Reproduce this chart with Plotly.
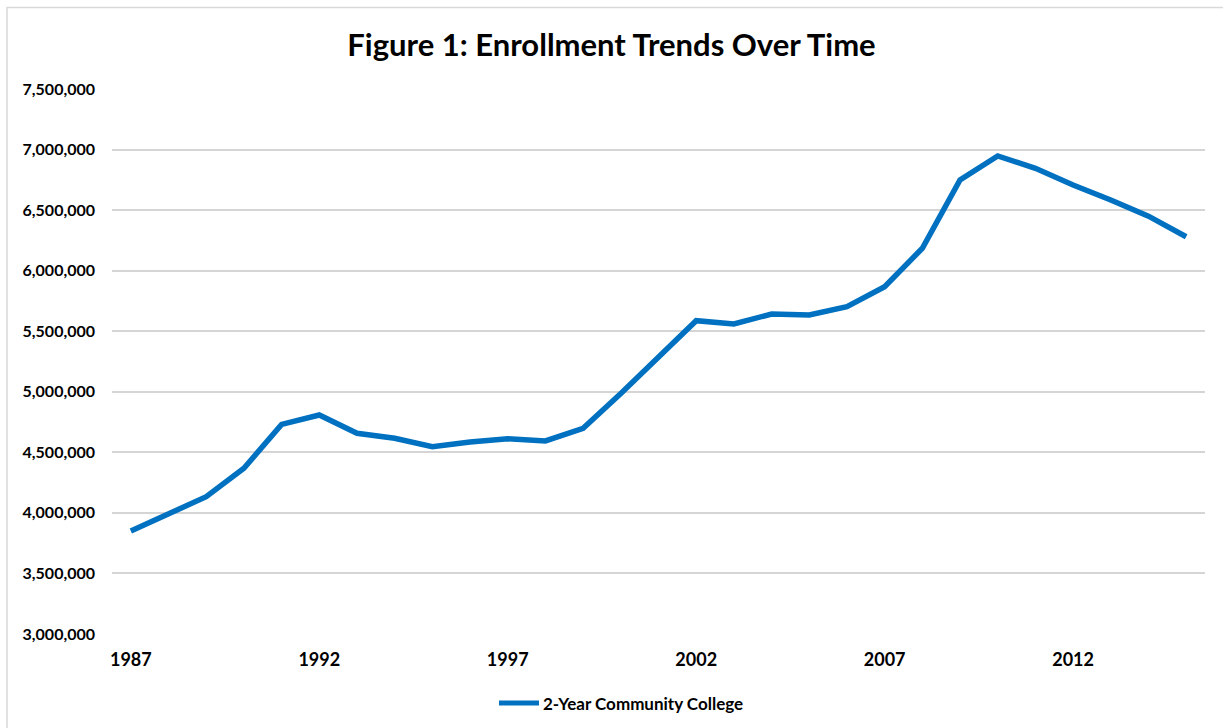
import plotly.graph_objects as go

# Fall enrollment at two-year community colleges
years = list(range(1987, 2016))
enrollment = [
    3850000, 3993000, 4134000, 4368000, 4731000, 4808000, 4657000, 4616000,
    4547000, 4585000, 4612000, 4594000, 4698000, 4986000, 5282000, 5587000,
    5560000, 5642000, 5634000, 5703000, 5868000, 6185000, 6749000, 6947000,
    6845000, 6707000, 6583000, 6450000, 6280000,
]
series_name = "2-Year Community College"
x_ticks = [1987, 1992, 1997, 2002, 2007, 2012]
y_ticks = list(range(3000000, 7500001, 500000))

W, H = 1223, 728
L, R, T, B = 112, 18, 89, 94
plot_w = W - L - R
plot_h = H - T - B

FONT = "Lato, 'Open Sans', Arial, sans-serif"

fig = go.Figure()
fig.add_trace(go.Scatter(
    x=years, y=enrollment, mode="lines", name=series_name,
    line=dict(color="#0070C0", width=5.5, shape="linear"),
    showlegend=False,
))


def px_x(p):
    return (p - L) / plot_w


def px_y(p):
    return (H - B - p) / plot_h


# outer chart frame (top and left edges visible)
fig.add_shape(type="rect", xref="paper", yref="paper",
              x0=px_x(7), x1=px_x(W + 20), y0=px_y(7.5), y1=px_y(H + 20),
              line=dict(color="#D9D9D9", width=1.5), layer="below")

# legend entry drawn below the axis
fig.add_shape(type="line", xref="paper", yref="paper",
              x0=px_x(499), x1=px_x(539), y0=px_y(703), y1=px_y(703),
              line=dict(color="#0070C0", width=5))
fig.add_annotation(xref="paper", yref="paper", x=px_x(541), y=px_y(703),
                   text=series_name, showarrow=False, xanchor="left",
                   yanchor="middle",
                   font=dict(family=FONT, size=17, color="#000000", weight="bold"))

fig.update_layout(
    width=W, height=H,
    margin=dict(l=L, r=R, t=T, b=B),
    paper_bgcolor="white", plot_bgcolor="white",
    title=dict(text="<b>Figure 1: Enrollment Trends Over Time</b>",
               x=0.5, xanchor="center", y=1 - 45 / H, yanchor="middle",
               font=dict(family=FONT, size=31, color="#000000")),
    font=dict(family=FONT, color="#000000"),
    xaxis=dict(range=[1986.5, 2015.5], tickmode="array", tickvals=x_ticks,
               ticktext=[str(v) for v in x_ticks], showgrid=False,
               zeroline=False, showline=False, ticks="",
               tickfont=dict(family=FONT, size=18, color="#000000", weight="bold"),
               ticklabelstandoff=13),
    yaxis=dict(range=[3000000, 7500000], tickmode="array", tickvals=y_ticks,
               ticktext=[f"{v:,}" for v in y_ticks], showgrid=True,
               gridcolor="#D5D5D5", gridwidth=1.5, zeroline=False,
               showline=False, ticks="",
               tickfont=dict(family=FONT, size=16, color="#000000", weight="bold"),
               ticklabelstandoff=16),
    showlegend=False,
)

fig.write_html("out.html")
